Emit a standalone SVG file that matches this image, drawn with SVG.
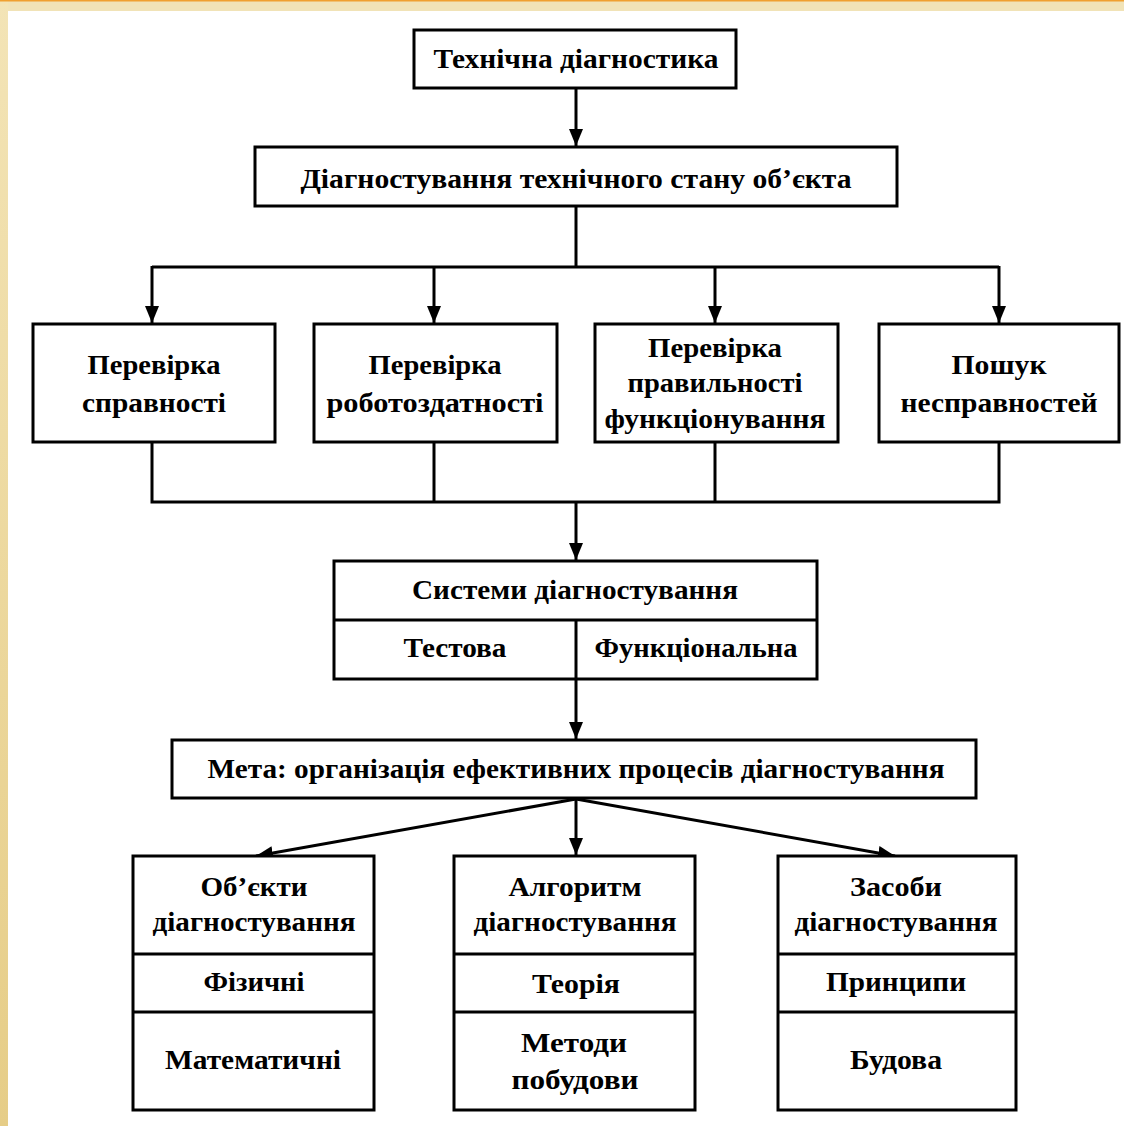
<svg xmlns="http://www.w3.org/2000/svg" width="1124" height="1126" viewBox="0 0 1124 1126">
<style>
.box{fill:#fff;stroke:#000;stroke-width:3}
.ln{fill:none;stroke:#000;stroke-width:3}
.t{font-family:"Liberation Serif","Times New Roman",serif;font-weight:bold;font-size:28px;fill:#000;text-anchor:middle}
</style>
<defs>
<marker id="ah" markerUnits="userSpaceOnUse" markerWidth="18" markerHeight="16" refX="17" refY="8" orient="auto">
<path d="M0,1 L17,8 L0,15 z" fill="#000"/>
</marker>
<linearGradient id="lb" x1="0" y1="0" x2="0" y2="1">
<stop offset="0" stop-color="#f3e4b6"/><stop offset="1" stop-color="#e6cd87"/>
</linearGradient>
</defs>
<rect x="0" y="0" width="1124" height="1126" fill="#fff"/>
<rect x="0" y="0" width="1124" height="11" fill="#f1e3b7"/>
<rect x="0" y="0" width="8" height="1126" fill="url(#lb)"/>
<rect x="0" y="0" width="1124" height="1.5" fill="#f0a030"/>

<g id="connectors">
<line class="ln" x1="576" y1="89" x2="576" y2="146" marker-end="url(#ah)"/>
<polyline class="ln" points="576,206 576,267"/>
<polyline class="ln" points="152,267 999,267"/>
<line class="ln" x1="152" y1="266" x2="152" y2="323" marker-end="url(#ah)"/>
<line class="ln" x1="434" y1="266" x2="434" y2="323" marker-end="url(#ah)"/>
<line class="ln" x1="715" y1="266" x2="715" y2="323" marker-end="url(#ah)"/>
<line class="ln" x1="999" y1="266" x2="999" y2="323" marker-end="url(#ah)"/>
<polyline class="ln" points="152,442 152,502 999,502 999,442"/>
<line class="ln" x1="434" y1="442" x2="434" y2="502"/>
<line class="ln" x1="715" y1="442" x2="715" y2="502"/>
<line class="ln" x1="576" y1="501" x2="576" y2="560" marker-end="url(#ah)"/>
<line class="ln" x1="576" y1="679" x2="576" y2="739" marker-end="url(#ah)"/>
<line class="ln" x1="576" y1="798" x2="576" y2="855" marker-end="url(#ah)"/>
<line class="ln" x1="576" y1="799" x2="256" y2="856" marker-end="url(#ah)"/>
<line class="ln" x1="576" y1="799" x2="895" y2="856" marker-end="url(#ah)"/>
</g>

<g id="n-tech">
<rect class="box" x="414" y="30" width="322" height="58"/>
<text class="t" x="576" y="68" textLength="285" lengthAdjust="spacingAndGlyphs">Технічна діагностика</text>
</g>
<g id="n-diag">
<rect class="box" x="255" y="147" width="642" height="59"/>
<text class="t" x="576" y="188" textLength="551" lengthAdjust="spacingAndGlyphs">Діагностування технічного стану об’єкта</text>
</g>
<g id="n-sprav">
<rect class="box" x="33" y="324" width="242" height="118"/>
<text class="t" x="154" y="374" textLength="133" lengthAdjust="spacingAndGlyphs">Перевірка</text>
<text class="t" x="154" y="412" textLength="144" lengthAdjust="spacingAndGlyphs">справності</text>
</g>
<g id="n-robot">
<rect class="box" x="314" y="324" width="243" height="118"/>
<text class="t" x="435" y="374" textLength="133" lengthAdjust="spacingAndGlyphs">Перевірка</text>
<text class="t" x="435" y="412" textLength="217" lengthAdjust="spacingAndGlyphs">роботоздатності</text>
</g>
<g id="n-prav">
<rect class="box" x="595" y="324" width="243" height="118"/>
<text class="t" x="715" y="357" textLength="134" lengthAdjust="spacingAndGlyphs">Перевірка</text>
<text class="t" x="715" y="392" textLength="175" lengthAdjust="spacingAndGlyphs">правильності</text>
<text class="t" x="715" y="428" textLength="221" lengthAdjust="spacingAndGlyphs">функціонування</text>
</g>
<g id="n-poshuk">
<rect class="box" x="879" y="324" width="240" height="118"/>
<text class="t" x="999" y="374" textLength="95" lengthAdjust="spacingAndGlyphs">Пошук</text>
<text class="t" x="999" y="412" textLength="197" lengthAdjust="spacingAndGlyphs">несправностей</text>
</g>
<g id="n-system">
<rect class="box" x="334" y="561" width="483" height="118"/>
<line class="ln" x1="334" y1="620" x2="817" y2="620"/>
<line class="ln" x1="576" y1="620" x2="576" y2="679"/>
<text class="t" x="575" y="599" textLength="326" lengthAdjust="spacingAndGlyphs">Системи діагностування</text>
<text class="t" x="455" y="657" textLength="103" lengthAdjust="spacingAndGlyphs">Тестова</text>
<text class="t" x="696" y="657" textLength="203" lengthAdjust="spacingAndGlyphs">Функціональна</text>
</g>
<g id="n-meta">
<rect class="box" x="172" y="740" width="804" height="58"/>
<text class="t" x="576" y="778" textLength="737" lengthAdjust="spacingAndGlyphs">Мета: організація ефективних процесів діагностування</text>
</g>
<g id="n-obj">
<rect class="box" x="133" y="856" width="241" height="254"/>
<line class="ln" x1="133" y1="954" x2="374" y2="954"/>
<line class="ln" x1="133" y1="1012" x2="374" y2="1012"/>
<text class="t" x="254" y="896" textLength="107" lengthAdjust="spacingAndGlyphs">Об’єкти</text>
<text class="t" x="254" y="931" textLength="203" lengthAdjust="spacingAndGlyphs">діагностування</text>
<text class="t" x="254" y="991" textLength="101" lengthAdjust="spacingAndGlyphs">Фізичні</text>
<text class="t" x="253" y="1069" textLength="176" lengthAdjust="spacingAndGlyphs">Математичні</text>
</g>
<g id="n-alg">
<rect class="box" x="454" y="856" width="241" height="254"/>
<line class="ln" x1="454" y1="954" x2="695" y2="954"/>
<line class="ln" x1="454" y1="1012" x2="695" y2="1012"/>
<text class="t" x="575" y="896" textLength="133" lengthAdjust="spacingAndGlyphs">Алгоритм</text>
<text class="t" x="575" y="931" textLength="203" lengthAdjust="spacingAndGlyphs">діагностування</text>
<text class="t" x="576" y="993" textLength="88" lengthAdjust="spacingAndGlyphs">Теорія</text>
<text class="t" x="574" y="1052" textLength="106" lengthAdjust="spacingAndGlyphs">Методи</text>
<text class="t" x="575" y="1089" textLength="127" lengthAdjust="spacingAndGlyphs">побудови</text>
</g>
<g id="n-zas">
<rect class="box" x="778" y="856" width="238" height="254"/>
<line class="ln" x1="778" y1="954" x2="1016" y2="954"/>
<line class="ln" x1="778" y1="1012" x2="1016" y2="1012"/>
<text class="t" x="896" y="896" textLength="92" lengthAdjust="spacingAndGlyphs">Засоби</text>
<text class="t" x="896" y="931" textLength="203" lengthAdjust="spacingAndGlyphs">діагностування</text>
<text class="t" x="896" y="991" textLength="140" lengthAdjust="spacingAndGlyphs">Принципи</text>
<text class="t" x="896" y="1069" textLength="92" lengthAdjust="spacingAndGlyphs">Будова</text>
</g>
</svg>
